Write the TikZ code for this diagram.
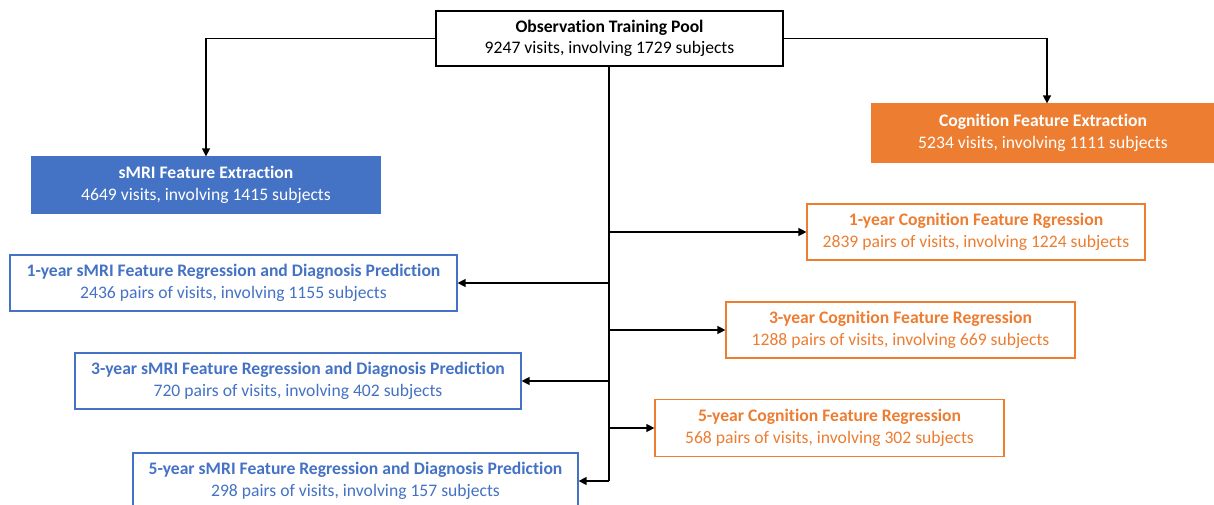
\documentclass[tikz,border=0pt]{standalone}
\usepackage{fontspec}
\setmainfont[RawFeature={-liga;-calt;-dlig}]{Carlito}
\usetikzlibrary{arrows.meta}
\definecolor{cblue}{HTML}{4472C4}
\definecolor{corange}{HTML}{ED7D31}
\begin{document}
\begin{tikzpicture}[x=1pt,y=-1pt,
  box/.style={draw, line width=1.2pt, align=center, inner sep=0pt, font=\fontsize{17.6}{21.5}\selectfont},
  blackbox/.style={box, draw=black, text=black},
  bluefill/.style={box, draw=cblue, fill=cblue, text=white},
  orangefill/.style={box, draw=corange, fill=corange, text=white},
  blueline/.style={box, draw=cblue, fill=white, text=cblue},
  orangeline/.style={box, draw=corange, fill=white, text=corange},
  conn/.style={draw=black, line width=1.3pt, -{Triangle[length=8pt,width=8pt]}},
  plain/.style={draw=black, line width=1.3pt}]
\useasboundingbox (0,0) rectangle (1214,505);
\begin{scope}
\clip (0,0) rectangle (1214,505);
\node[blackbox, minimum width=347pt, minimum height=55pt] (pool) at (609.5,38.5) {\textbf{Observation Training Pool}\\9247 visits, involving 1729 subjects};
\node[bluefill, minimum width=348pt, minimum height=56pt] (smri) at (206,185) {\textbf{sMRI Feature Extraction}\\4649 visits, involving 1415 subjects};
\node[orangefill, minimum width=342pt, minimum height=58pt] (cog) at (1043,133) {\textbf{Cognition Feature Extraction}\\5234 visits, involving 1111 subjects};
\node[orangeline, minimum width=338pt, minimum height=56pt] (c1) at (976,232) {\textbf{1-year Cognition Feature Rgression}\\2839 pairs of visits, involving 1224 subjects};
\node[blueline, minimum width=447pt, minimum height=56pt] (s1) at (233.5,283) {\textbf{1-year sMRI Feature Regression and Diagnosis Prediction}\\2436 pairs of visits, involving 1155 subjects};
\node[orangeline, minimum width=349pt, minimum height=56pt] (c3) at (900.5,330) {\textbf{3-year Cognition Feature Regression}\\1288 pairs of visits, involving 669 subjects};
\node[blueline, minimum width=446pt, minimum height=56pt] (s3) at (298,381) {\textbf{3-year sMRI Feature Regression and Diagnosis Prediction}\\720 pairs of visits, involving 402 subjects};
\node[orangeline, minimum width=349pt, minimum height=57pt] (c5) at (829.5,428) {\textbf{5-year Cognition Feature Regression}\\568 pairs of visits, involving 302 subjects};
\node[blueline, minimum width=445pt, minimum height=56pt] (s5) at (355.5,481) {\textbf{5-year sMRI Feature Regression and Diagnosis Prediction}\\298 pairs of visits, involving 157 subjects};
\coordinate (tl) at (206,38.5);
\coordinate (tr) at (1047,38.5);
\coordinate (b1) at (609,232);
\coordinate (b2) at (609,283);
\coordinate (b3) at (609,330);
\coordinate (b4) at (609,381);
\coordinate (b5) at (609,428);
\coordinate (b6) at (609,481);
\coordinate (ptop) at (609,66);
\draw[plain] (ptop) -- (b6);
\draw[conn] (pool.west) -- (tl) -- (smri.north -| tl);
\draw[conn] (pool.east) -- (tr) -- (cog.north -| tr);
\draw[conn] (b1) -- (c1.west);
\draw[conn] (b2) -- (s1.east);
\draw[conn] (b3) -- (c3.west);
\draw[conn] (b4) -- (s3.east);
\draw[conn] (b5) -- (c5.west);
\draw[conn] (b6) -- (s5.east);
\end{scope}
\end{tikzpicture}
\end{document}
